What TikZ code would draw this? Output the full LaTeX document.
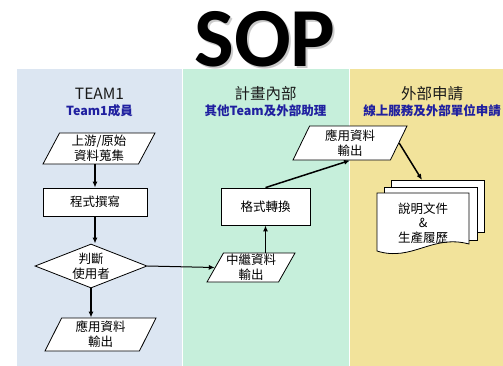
\documentclass[tikz,border=0pt]{standalone}
\usepackage{fontspec}
\setmainfont{Noto Sans CJK TC}
\newfontfamily\titlefont{Carlito}
\usetikzlibrary{arrows.meta,shapes.geometric}
\definecolor{TeamClr}{RGB}{220,230,242}
\definecolor{InnerClr}{RGB}{198,239,219}
\definecolor{OuterClr}{RGB}{242,227,155}
\definecolor{SubClr}{RGB}{32,32,160}
\definecolor{HeadClr}{RGB}{26,26,26}

\begin{document}
\begin{tikzpicture}[x=1pt,y=-1pt,
  lane/.style={draw=white,line width=1pt},
  head/.style={text=HeadClr,font=\fontsize{15.5}{18}\selectfont},
  sub/.style={text=SubClr,font=\bfseries\fontsize{12.5}{15}\selectfont},
  big/.style={anchor=base,inner sep=0pt,text depth=0pt,font=\titlefont\bfseries\fontsize{84}{84}\selectfont},
  io/.style={trapezium,trapezium left angle=60,trapezium right angle=120,trapezium stretches body,
    draw,fill=white,line width=0.8pt,inner sep=1pt,align=center,font=\fontsize{12.5}{15}\selectfont},
  proc/.style={rectangle,draw,fill=white,line width=0.8pt,align=center,font=\fontsize{12.5}{15}\selectfont},
  choice/.style={diamond,aspect=2.55,draw,fill=white,line width=0.8pt,inner sep=0pt,align=center,
    minimum width=112pt,minimum height=44pt,font=\fontsize{12.5}{15}\selectfont},
  page/.style={draw,fill=white,line width=0.8pt},
  flow/.style={line width=1.5pt,-{Latex[length=6pt,width=5pt]}},
  thinflow/.style={line width=1pt,-{Latex[length=6pt,width=5pt]}}]
\useasboundingbox (0,0) rectangle (503,365);

\fill[white] (0,0) rectangle (503,365);
\fill[TeamClr] (17,69) rectangle (182,366);
\fill[InnerClr] (182,69) rectangle (349,366);
\fill[OuterClr] (349,69) rectangle (516,366);
\draw[lane] (182,69) -- (182,366);
\draw[lane] (349,69) -- (349,366);

\node[big,text=black!40,opacity=0.5] (titleshadow) at (267,68) {SOP};
\node[big] (title) at (265,66) {SOP};

\node[head] (teamhead) at (99.5,94) {TEAM1};
\node[sub] (teamsub) at (99.5,111) {Team1成員};
\node[head] (innerhead) at (265.5,94) {計畫內部};
\node[sub] (innersub) at (265.5,111) {其他Team及外部助理};
\node[head] (outerhead) at (432,94) {外部申請};
\node[sub] (outersub) at (432,111) {線上服務及外部單位申請};

\node[io,minimum width=112pt,minimum height=31pt] (source) at (99,148.5) {上游/原始\\資料蒐集};
\node[proc,minimum width=104pt,minimum height=28pt] (coding) at (95,202) {程式撰寫};
\node[choice] (judge) at (91,266) {判斷\\使用者};
\node[io,minimum width=111pt,minimum height=33pt] (result) at (100.5,334.5) {應用資料\\輸出};

\node[io,minimum width=88pt,minimum height=29pt] (relay) at (251,267.5) {中繼資料\\輸出};
\node[proc,minimum width=89pt,minimum height=37pt] (convert) at (265.5,206.5) {格式轉換};
\node[io,minimum width=114pt,minimum height=34pt] (output) at (350,143) {應用資料\\輸出};

\draw[page] (391,180) rectangle (484,232);
\draw[page] (384,187) rectangle (477,240);
\draw[page] (377,193) -- (469,193) -- (469,244) .. controls (432,234) and (412,262) .. (377,251) -- cycle;
\node[align=center,font=\fontsize{12.5}{14.5}\selectfont] (docs) at (423,223) {說明文件\\\&\\生產履歷};
\coordinate (docstop) at (422,180);

\draw[flow] (coding.north |- source.south) -- (coding.north);
\draw[flow] (coding.south) -- (coding.south |- judge.north);
\draw[flow] (judge.south) -- (judge.south |- result.north);
\draw[thinflow] (judge.east) -- (relay.west);
\draw[flow] (convert.south |- relay.north) -- (convert.south);
\draw[flow] (convert.north) -- (output.south);
\draw[flow] (output.east) -- (docstop);
\end{tikzpicture}
\end{document}
